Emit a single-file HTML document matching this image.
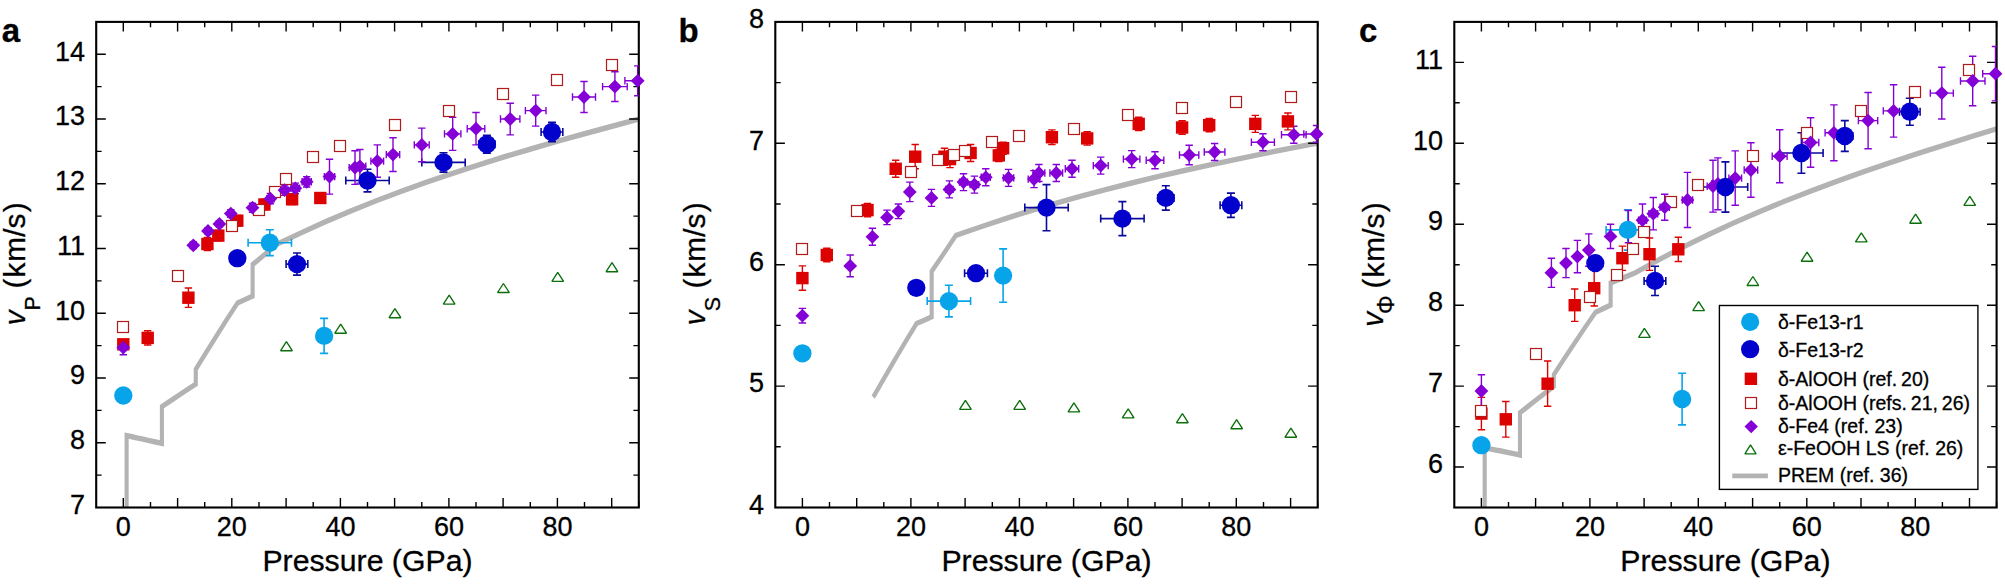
<!DOCTYPE html>
<html><head><meta charset="utf-8"><title>Figure</title>
<style>html,body{margin:0;padding:0;background:#fff}svg{display:block}text{fill:#000;stroke:#000;stroke-width:0.3px}</style></head>
<body><svg width="2005" height="584" viewBox="0 0 2005 584">
<rect width="2005" height="584" fill="#fff"/>
<g id="panel-a">
<clipPath id="clipa"><rect x="96.2" y="21.9" width="542.6" height="485.6"/></clipPath>
<g clip-path="url(#clipa)">
<polyline transform="scale(0.76,1)" points="166.59,572.2 166.59,435.6 170.27,436.2 175.06,437.0 179.77,437.8 188.12,439.2 196.40,440.6 204.68,442.0 213.04,443.4 213.04,406.6 224.03,401.0 235.10,395.4 246.38,389.7 257.59,384.1 257.59,369.3 271.01,352.8 284.58,336.2 298.43,319.6 312.49,303.0 322.56,299.5 332.41,296.0 332.41,264.6 348.62,254.3 364.25,244.3 396.45,232.7 428.51,221.6 461.13,211.1 494.19,201.0 527.82,191.4 561.37,182.2 595.64,173.3 629.91,164.8 664.90,156.5 700.59,148.5 736.29,140.7 772.70,133.0 809.11,125.5 846.24,118.0" fill="none" stroke="#b3b3b3" stroke-width="5.4" stroke-linejoin="miter"/>
</g>
<rect x="96.2" y="21.9" width="542.6" height="485.6" fill="none" stroke="#000" stroke-width="2.1"/>
<path d="M123.3,507.5v-9.6M123.3,21.9v9.6M150.5,507.5v-5.4M150.5,21.9v5.4M177.6,507.5v-9.6M177.6,21.9v9.6M204.7,507.5v-5.4M204.7,21.9v5.4M231.8,507.5v-9.6M231.8,21.9v9.6M259.0,507.5v-5.4M259.0,21.9v5.4M286.1,507.5v-9.6M286.1,21.9v9.6M313.2,507.5v-5.4M313.2,21.9v5.4M340.4,507.5v-9.6M340.4,21.9v9.6M367.5,507.5v-5.4M367.5,21.9v5.4M394.6,507.5v-9.6M394.6,21.9v9.6M421.8,507.5v-5.4M421.8,21.9v5.4M448.9,507.5v-9.6M448.9,21.9v9.6M476.0,507.5v-5.4M476.0,21.9v5.4M503.1,507.5v-9.6M503.1,21.9v9.6M530.3,507.5v-5.4M530.3,21.9v5.4M557.4,507.5v-9.6M557.4,21.9v9.6M584.5,507.5v-5.4M584.5,21.9v5.4M611.7,507.5v-9.6M611.7,21.9v9.6M638.8,507.5v-5.4M638.8,21.9v5.4M96.2,475.1h5.4M638.8,475.1h-5.4M96.2,442.8h9.6M638.8,442.8h-9.6M96.2,410.4h5.4M638.8,410.4h-5.4M96.2,378.0h9.6M638.8,378.0h-9.6M96.2,345.6h5.4M638.8,345.6h-5.4M96.2,313.3h9.6M638.8,313.3h-9.6M96.2,280.9h5.4M638.8,280.9h-5.4M96.2,248.5h9.6M638.8,248.5h-9.6M96.2,216.1h5.4M638.8,216.1h-5.4M96.2,183.8h9.6M638.8,183.8h-9.6M96.2,151.4h5.4M638.8,151.4h-5.4M96.2,119.0h9.6M638.8,119.0h-9.6M96.2,86.6h5.4M638.8,86.6h-5.4M96.2,54.3h9.6M638.8,54.3h-9.6" stroke="#000" stroke-width="1.4" fill="none"/>

<path d="M269.8,229.7V255.6M265.8,229.7h8M265.8,255.6h8M248.1,242.7H291.5M248.1,238.7v8M291.5,238.7v8" stroke="#08a4ea" stroke-width="1.6" fill="none" clip-path="url(#clipa)"/>
<path d="M324.1,318.4V353.4M320.1,318.4h8M320.1,353.4h8" stroke="#08a4ea" stroke-width="1.6" fill="none" clip-path="url(#clipa)"/>

<path d="M297.0,253.0V275.1M293.0,253.0h8M293.0,275.1h8M286.1,264.1H307.8M286.1,260.1v8M307.8,260.1v8" stroke="#0a0a9c" stroke-width="1.6" fill="none" clip-path="url(#clipa)"/>
<path d="M367.5,169.2V191.9M363.5,169.2h8M363.5,191.9h8M345.8,180.5H389.2M345.8,176.5v8M389.2,176.5v8" stroke="#0a0a9c" stroke-width="1.6" fill="none" clip-path="url(#clipa)"/>
<path d="M443.5,152.7V172.1M439.5,152.7h8M439.5,172.1h8M421.8,162.4H465.2M421.8,158.4v8M465.2,158.4v8" stroke="#0a0a9c" stroke-width="1.6" fill="none" clip-path="url(#clipa)"/>
<path d="M486.9,135.2V153.3M482.9,135.2h8M482.9,153.3h8M478.7,144.3H495.0M478.7,140.3v8M495.0,140.3v8" stroke="#0a0a9c" stroke-width="1.6" fill="none" clip-path="url(#clipa)"/>
<path d="M552.0,122.4V141.6M548.0,122.4h8M548.0,141.6h8M541.1,132.0H562.8M541.1,128.0v8M562.8,128.0v8" stroke="#0a0a9c" stroke-width="1.6" fill="none" clip-path="url(#clipa)"/>

<path d="M147.7,330.7V345.0M144.0,330.7h7.4M144.0,345.0h7.4" stroke="#dd0202" stroke-width="1.4" fill="none" clip-path="url(#clipa)"/>
<path d="M188.4,288.0V307.4M184.7,288.0h7.4M184.7,307.4h7.4" stroke="#dd0202" stroke-width="1.4" fill="none" clip-path="url(#clipa)"/>
<path d="M207.4,237.5V250.5M203.7,237.5h7.4M203.7,250.5h7.4" stroke="#dd0202" stroke-width="1.4" fill="none" clip-path="url(#clipa)"/>
<path d="M218.3,230.4V240.7M214.6,230.4h7.4M214.6,240.7h7.4" stroke="#dd0202" stroke-width="1.4" fill="none" clip-path="url(#clipa)"/>
<path d="M237.3,215.5V225.9M233.6,215.5h7.4M233.6,225.9h7.4" stroke="#dd0202" stroke-width="1.4" fill="none" clip-path="url(#clipa)"/>
<path d="M264.4,199.3V209.7M260.7,199.3h7.4M260.7,209.7h7.4" stroke="#dd0202" stroke-width="1.4" fill="none" clip-path="url(#clipa)"/>
<path d="M292.1,194.1V204.5M288.4,194.1h7.4M288.4,204.5h7.4" stroke="#dd0202" stroke-width="1.4" fill="none" clip-path="url(#clipa)"/>
<path d="M320.3,192.8V203.2M316.6,192.8h7.4M316.6,203.2h7.4" stroke="#dd0202" stroke-width="1.4" fill="none" clip-path="url(#clipa)"/>
<path d="M123.3,340.5V354.7M119.6,340.5h7.4M119.6,354.7h7.4" stroke="#8400d6" stroke-width="1.4" fill="none" clip-path="url(#clipa)"/>
<path d="M193.3,242.0V248.5M189.6,242.0h7.4M189.6,248.5h7.4" stroke="#8400d6" stroke-width="1.4" fill="none" clip-path="url(#clipa)"/>
<path d="M208.0,227.8V234.3M204.3,227.8h7.4M204.3,234.3h7.4" stroke="#8400d6" stroke-width="1.4" fill="none" clip-path="url(#clipa)"/>
<path d="M219.4,220.7V227.1M215.7,220.7h7.4M215.7,227.1h7.4" stroke="#8400d6" stroke-width="1.4" fill="none" clip-path="url(#clipa)"/>
<path d="M230.8,209.7V217.4M227.1,209.7h7.4M227.1,217.4h7.4" stroke="#8400d6" stroke-width="1.4" fill="none" clip-path="url(#clipa)"/>
<path d="M252.5,203.2V212.3M248.8,203.2h7.4M248.8,212.3h7.4" stroke="#8400d6" stroke-width="1.4" fill="none" clip-path="url(#clipa)"/>
<path d="M270.4,193.5V203.8M266.7,193.5h7.4M266.7,203.8h7.4M266.7,198.7H274.1M266.7,195.0v7.4M274.1,195.0v7.4" stroke="#8400d6" stroke-width="1.4" fill="none" clip-path="url(#clipa)"/>
<path d="M284.5,185.1V195.4M280.8,185.1h7.4M280.8,195.4h7.4M280.5,190.2H288.5M280.5,186.5v7.4M288.5,186.5v7.4" stroke="#8400d6" stroke-width="1.4" fill="none" clip-path="url(#clipa)"/>
<path d="M295.3,183.1V193.5M291.6,183.1h7.4M291.6,193.5h7.4M291.0,188.3H299.6M291.0,184.6v7.4M299.6,184.6v7.4" stroke="#8400d6" stroke-width="1.4" fill="none" clip-path="url(#clipa)"/>
<path d="M306.7,176.6V187.0M303.0,176.6h7.4M303.0,187.0h7.4M302.1,181.8H311.3M302.1,178.1v7.4M311.3,178.1v7.4" stroke="#8400d6" stroke-width="1.4" fill="none" clip-path="url(#clipa)"/>
<path d="M329.5,159.2V194.1M325.8,159.2h7.4M325.8,194.1h7.4M324.4,176.6H334.7M324.4,172.9v7.4M334.7,172.9v7.4" stroke="#8400d6" stroke-width="1.4" fill="none" clip-path="url(#clipa)"/>
<path d="M355.0,150.7V184.4M351.3,150.7h7.4M351.3,184.4h7.4M349.2,167.6H360.8M349.2,163.9v7.4M360.8,163.9v7.4" stroke="#8400d6" stroke-width="1.4" fill="none" clip-path="url(#clipa)"/>
<path d="M359.9,149.5V183.1M356.2,149.5h7.4M356.2,183.1h7.4M354.0,166.3H365.8M354.0,162.6v7.4M365.8,162.6v7.4" stroke="#8400d6" stroke-width="1.4" fill="none" clip-path="url(#clipa)"/>
<path d="M377.3,144.9V177.3M373.6,144.9h7.4M373.6,177.3h7.4M370.9,161.1H383.6M370.9,157.4v7.4M383.6,157.4v7.4" stroke="#8400d6" stroke-width="1.4" fill="none" clip-path="url(#clipa)"/>
<path d="M393.0,137.8V171.5M389.3,137.8h7.4M389.3,171.5h7.4M386.3,154.6H399.7M386.3,150.9v7.4M399.7,150.9v7.4" stroke="#8400d6" stroke-width="1.4" fill="none" clip-path="url(#clipa)"/>
<path d="M421.8,128.1V161.8M418.1,128.1h7.4M418.1,161.8h7.4M414.3,144.9H429.2M414.3,141.2v7.4M429.2,141.2v7.4" stroke="#8400d6" stroke-width="1.4" fill="none" clip-path="url(#clipa)"/>
<path d="M452.7,117.4V150.4M449.0,117.4h7.4M449.0,150.4h7.4M444.5,133.9H460.9M444.5,130.2v7.4M460.9,130.2v7.4" stroke="#8400d6" stroke-width="1.4" fill="none" clip-path="url(#clipa)"/>
<path d="M476.0,112.5V144.9M472.3,112.5h7.4M472.3,144.9h7.4M467.2,128.7H484.8M467.2,125.0v7.4M484.8,125.0v7.4" stroke="#8400d6" stroke-width="1.4" fill="none" clip-path="url(#clipa)"/>
<path d="M510.2,103.2V134.9M506.5,103.2h7.4M506.5,134.9h7.4M500.5,119.0H519.9M500.5,115.3v7.4M519.9,115.3v7.4" stroke="#8400d6" stroke-width="1.4" fill="none" clip-path="url(#clipa)"/>
<path d="M535.7,95.1V126.1M532.0,95.1h7.4M532.0,126.1h7.4M525.4,110.6H546.0M525.4,106.9v7.4M546.0,106.9v7.4" stroke="#8400d6" stroke-width="1.4" fill="none" clip-path="url(#clipa)"/>
<path d="M584.0,81.5V112.5M580.3,81.5h7.4M580.3,112.5h7.4M572.5,97.0H595.5M572.5,93.3v7.4M595.5,93.3v7.4" stroke="#8400d6" stroke-width="1.4" fill="none" clip-path="url(#clipa)"/>
<path d="M614.9,71.8V101.5M611.2,71.8h7.4M611.2,101.5h7.4M602.6,86.6H627.2M602.6,82.9v7.4M627.2,82.9v7.4" stroke="#8400d6" stroke-width="1.4" fill="none" clip-path="url(#clipa)"/>
<path d="M637.7,65.9V95.7M634.0,65.9h7.4M634.0,95.7h7.4M624.9,80.8H650.6M624.9,77.1v7.4M650.6,77.1v7.4" stroke="#8400d6" stroke-width="1.4" fill="none" clip-path="url(#clipa)"/>
<rect x="117.1" y="338.1" width="12.4" height="12.4" fill="#dd0202"/>
<rect x="141.5" y="331.7" width="12.4" height="12.4" fill="#dd0202"/>
<rect x="182.2" y="291.5" width="12.4" height="12.4" fill="#dd0202"/>
<rect x="201.2" y="237.8" width="12.4" height="12.4" fill="#dd0202"/>
<rect x="212.1" y="229.4" width="12.4" height="12.4" fill="#dd0202"/>
<rect x="231.1" y="214.5" width="12.4" height="12.4" fill="#dd0202"/>
<rect x="258.2" y="198.3" width="12.4" height="12.4" fill="#dd0202"/>
<rect x="285.9" y="193.1" width="12.4" height="12.4" fill="#dd0202"/>
<rect x="314.1" y="191.8" width="12.4" height="12.4" fill="#dd0202"/>
<rect x="117.5" y="321.5" width="11" height="11" fill="#fff" stroke="#b01c1c" stroke-width="1.2"/>
<rect x="172.5" y="270.5" width="11" height="11" fill="#fff" stroke="#b01c1c" stroke-width="1.2"/>
<rect x="226.5" y="220.5" width="11" height="11" fill="#fff" stroke="#b01c1c" stroke-width="1.2"/>
<rect x="253.5" y="204.5" width="11" height="11" fill="#fff" stroke="#b01c1c" stroke-width="1.2"/>
<rect x="269.5" y="186.5" width="11" height="11" fill="#fff" stroke="#b01c1c" stroke-width="1.2"/>
<rect x="280.5" y="173.5" width="11" height="11" fill="#fff" stroke="#b01c1c" stroke-width="1.2"/>
<rect x="307.5" y="151.5" width="11" height="11" fill="#fff" stroke="#b01c1c" stroke-width="1.2"/>
<rect x="334.5" y="140.5" width="11" height="11" fill="#fff" stroke="#b01c1c" stroke-width="1.2"/>
<rect x="389.5" y="119.5" width="11" height="11" fill="#fff" stroke="#b01c1c" stroke-width="1.2"/>
<rect x="443.5" y="105.5" width="11" height="11" fill="#fff" stroke="#b01c1c" stroke-width="1.2"/>
<rect x="497.5" y="88.5" width="11" height="11" fill="#fff" stroke="#b01c1c" stroke-width="1.2"/>
<rect x="551.5" y="74.5" width="11" height="11" fill="#fff" stroke="#b01c1c" stroke-width="1.2"/>
<rect x="606.5" y="59.5" width="11" height="11" fill="#fff" stroke="#b01c1c" stroke-width="1.2"/>
<path d="M123.3,340.7L130.2,347.6L123.3,354.5L116.4,347.6Z" fill="#8400d6"/>
<path d="M193.3,238.4L200.2,245.3L193.3,252.2L186.4,245.3Z" fill="#8400d6"/>
<path d="M208.0,224.1L214.9,231.0L208.0,237.9L201.1,231.0Z" fill="#8400d6"/>
<path d="M219.4,217.0L226.3,223.9L219.4,230.8L212.5,223.9Z" fill="#8400d6"/>
<path d="M230.8,206.7L237.7,213.6L230.8,220.5L223.9,213.6Z" fill="#8400d6"/>
<path d="M252.5,200.8L259.4,207.7L252.5,214.6L245.6,207.7Z" fill="#8400d6"/>
<path d="M270.4,191.8L277.3,198.7L270.4,205.6L263.5,198.7Z" fill="#8400d6"/>
<path d="M284.5,183.3L291.4,190.2L284.5,197.1L277.6,190.2Z" fill="#8400d6"/>
<path d="M295.3,181.4L302.2,188.3L295.3,195.2L288.4,188.3Z" fill="#8400d6"/>
<path d="M306.7,174.9L313.6,181.8L306.7,188.7L299.8,181.8Z" fill="#8400d6"/>
<path d="M329.5,169.7L336.4,176.6L329.5,183.5L322.6,176.6Z" fill="#8400d6"/>
<path d="M355.0,160.7L361.9,167.6L355.0,174.5L348.1,167.6Z" fill="#8400d6"/>
<path d="M359.9,159.4L366.8,166.3L359.9,173.2L353.0,166.3Z" fill="#8400d6"/>
<path d="M377.3,154.2L384.2,161.1L377.3,168.0L370.4,161.1Z" fill="#8400d6"/>
<path d="M393.0,147.7L399.9,154.6L393.0,161.5L386.1,154.6Z" fill="#8400d6"/>
<path d="M421.8,138.0L428.7,144.9L421.8,151.8L414.9,144.9Z" fill="#8400d6"/>
<path d="M452.7,127.0L459.6,133.9L452.7,140.8L445.8,133.9Z" fill="#8400d6"/>
<path d="M476.0,121.8L482.9,128.7L476.0,135.6L469.1,128.7Z" fill="#8400d6"/>
<path d="M510.2,112.1L517.1,119.0L510.2,125.9L503.3,119.0Z" fill="#8400d6"/>
<path d="M535.7,103.7L542.6,110.6L535.7,117.5L528.8,110.6Z" fill="#8400d6"/>
<path d="M584.0,90.1L590.9,97.0L584.0,103.9L577.1,97.0Z" fill="#8400d6"/>
<path d="M614.9,79.7L621.8,86.6L614.9,93.5L608.0,86.6Z" fill="#8400d6"/>
<path d="M637.7,73.9L644.6,80.8L637.7,87.7L630.8,80.8Z" fill="#8400d6"/>
<path d="M286.4,341.7L292.3,350.7H280.6Z" fill="#fff" stroke="#0a6e0a" stroke-width="1.35" stroke-linejoin="bevel"/>
<path d="M340.7,324.2L346.5,333.2H334.8Z" fill="#fff" stroke="#0a6e0a" stroke-width="1.35" stroke-linejoin="bevel"/>
<path d="M394.9,308.7L400.8,317.7H389.1Z" fill="#fff" stroke="#0a6e0a" stroke-width="1.35" stroke-linejoin="bevel"/>
<path d="M449.2,295.1L455.0,304.1H443.3Z" fill="#fff" stroke="#0a6e0a" stroke-width="1.35" stroke-linejoin="bevel"/>
<path d="M503.4,283.5L509.3,292.5H497.6Z" fill="#fff" stroke="#0a6e0a" stroke-width="1.35" stroke-linejoin="bevel"/>
<path d="M557.7,272.4L563.6,281.4H551.9Z" fill="#fff" stroke="#0a6e0a" stroke-width="1.35" stroke-linejoin="bevel"/>
<path d="M612.0,262.7L617.8,271.7H606.1Z" fill="#fff" stroke="#0a6e0a" stroke-width="1.35" stroke-linejoin="bevel"/>
<circle cx="123.3" cy="395.5" r="9.15" fill="#08a4ea"/>
<circle cx="269.8" cy="242.7" r="9.15" fill="#08a4ea"/>
<circle cx="324.1" cy="335.9" r="9.15" fill="#08a4ea"/>
<circle cx="237.3" cy="258.2" r="9.15" fill="#0202cc"/>
<circle cx="297.0" cy="264.1" r="9.15" fill="#0202cc"/>
<circle cx="367.5" cy="180.5" r="9.15" fill="#0202cc"/>
<circle cx="443.5" cy="162.4" r="9.15" fill="#0202cc"/>
<circle cx="486.9" cy="144.3" r="9.15" fill="#0202cc"/>
<circle cx="552.0" cy="132.0" r="9.15" fill="#0202cc"/>
<text x="123.3" y="535.7" font-size="27" text-anchor="middle" font-family="Liberation Sans, Arial, sans-serif">0</text>
<text x="231.8" y="535.7" font-size="27" text-anchor="middle" font-family="Liberation Sans, Arial, sans-serif">20</text>
<text x="340.4" y="535.7" font-size="27" text-anchor="middle" font-family="Liberation Sans, Arial, sans-serif">40</text>
<text x="448.9" y="535.7" font-size="27" text-anchor="middle" font-family="Liberation Sans, Arial, sans-serif">60</text>
<text x="557.4" y="535.7" font-size="27" text-anchor="middle" font-family="Liberation Sans, Arial, sans-serif">80</text>
<text x="85.0" y="513.7" font-size="27" text-anchor="end" font-family="Liberation Sans, Arial, sans-serif">7</text>
<text x="85.0" y="449.0" font-size="27" text-anchor="end" font-family="Liberation Sans, Arial, sans-serif">8</text>
<text x="85.0" y="384.2" font-size="27" text-anchor="end" font-family="Liberation Sans, Arial, sans-serif">9</text>
<text x="85.0" y="319.5" font-size="27" text-anchor="end" font-family="Liberation Sans, Arial, sans-serif">10</text>
<text x="85.0" y="254.7" font-size="27" text-anchor="end" font-family="Liberation Sans, Arial, sans-serif">11</text>
<text x="85.0" y="190.0" font-size="27" text-anchor="end" font-family="Liberation Sans, Arial, sans-serif">12</text>
<text x="85.0" y="125.2" font-size="27" text-anchor="end" font-family="Liberation Sans, Arial, sans-serif">13</text>
<text x="85.0" y="60.5" font-size="27" text-anchor="end" font-family="Liberation Sans, Arial, sans-serif">14</text>
<text x="367.5" y="570.6" font-size="30.25" text-anchor="middle" font-family="Liberation Sans, Arial, sans-serif">Pressure (GPa)</text>
<g transform="translate(25.2,0) rotate(-90)" font-size="29.8" font-family="Liberation Sans, Arial, sans-serif"><text x="-325.2" y="-0.4" font-style="italic">v</text><text x="-310.5" y="14.6" font-size="21.3">P</text><text x="-288.49" y="0" dx="0 1 1 0 0 1.3">(km/s)</text></g>
<text x="1.8" y="42.1" font-size="33" font-weight="bold" font-family="Liberation Sans, Arial, sans-serif">a</text>
</g>
<g id="panel-b">
<clipPath id="clipb"><rect x="775.3" y="21.9" width="542.4" height="485.6"/></clipPath>
<g clip-path="url(#clipb)">
<polyline transform="scale(0.76,1)" points="1148.95,397.1 1151.09,394.3 1164.51,376.6 1178.07,358.9 1191.92,341.2 1205.97,323.5 1216.04,320.2 1225.89,316.9 1225.89,271.4 1242.09,253.3 1257.72,235.5 1289.90,227.0 1321.95,218.8 1354.56,211.0 1387.61,203.6 1421.22,196.4 1454.77,189.6 1489.02,183.0 1523.28,176.6 1558.25,170.5 1593.93,164.6 1629.62,158.8 1666.02,153.1 1702.41,147.6 1739.53,142.2" fill="none" stroke="#b3b3b3" stroke-width="5.4" stroke-linejoin="miter"/>
</g>
<rect x="775.3" y="21.9" width="542.4" height="485.6" fill="none" stroke="#000" stroke-width="2.1"/>
<path d="M802.4,507.5v-9.6M802.4,21.9v9.6M829.5,507.5v-5.4M829.5,21.9v5.4M856.7,507.5v-9.6M856.7,21.9v9.6M883.8,507.5v-5.4M883.8,21.9v5.4M910.9,507.5v-9.6M910.9,21.9v9.6M938.0,507.5v-5.4M938.0,21.9v5.4M965.1,507.5v-9.6M965.1,21.9v9.6M992.3,507.5v-5.4M992.3,21.9v5.4M1019.4,507.5v-9.6M1019.4,21.9v9.6M1046.5,507.5v-5.4M1046.5,21.9v5.4M1073.6,507.5v-9.6M1073.6,21.9v9.6M1100.7,507.5v-5.4M1100.7,21.9v5.4M1127.9,507.5v-9.6M1127.9,21.9v9.6M1155.0,507.5v-5.4M1155.0,21.9v5.4M1182.1,507.5v-9.6M1182.1,21.9v9.6M1209.2,507.5v-5.4M1209.2,21.9v5.4M1236.3,507.5v-9.6M1236.3,21.9v9.6M1263.5,507.5v-5.4M1263.5,21.9v5.4M1290.6,507.5v-9.6M1290.6,21.9v9.6M1317.7,507.5v-5.4M1317.7,21.9v5.4M775.3,446.8h5.4M1317.7,446.8h-5.4M775.3,386.1h9.6M1317.7,386.1h-9.6M775.3,325.4h5.4M1317.7,325.4h-5.4M775.3,264.7h9.6M1317.7,264.7h-9.6M775.3,204.0h5.4M1317.7,204.0h-5.4M775.3,143.3h9.6M1317.7,143.3h-9.6M775.3,82.6h5.4M1317.7,82.6h-5.4" stroke="#000" stroke-width="1.4" fill="none"/>

<path d="M948.9,285.3V316.9M944.9,285.3h8M944.9,316.9h8M927.2,301.1H970.6M927.2,297.1v8M970.6,297.1v8" stroke="#08a4ea" stroke-width="1.6" fill="none" clip-path="url(#clipb)"/>
<path d="M1003.1,248.9V302.3M999.1,248.9h8M999.1,302.3h8" stroke="#08a4ea" stroke-width="1.6" fill="none" clip-path="url(#clipb)"/>

<path d="M976.0,267.1V279.3M972.0,267.1h8M972.0,279.3h8M964.6,273.2H987.4M964.6,269.2v8M987.4,269.2v8" stroke="#0a0a9c" stroke-width="1.6" fill="none" clip-path="url(#clipb)"/>
<path d="M1046.5,184.6V230.7M1042.5,184.6h8M1042.5,230.7h8M1024.8,207.6H1068.2M1024.8,203.6v8M1068.2,203.6v8" stroke="#0a0a9c" stroke-width="1.6" fill="none" clip-path="url(#clipb)"/>
<path d="M1122.4,201.6V235.6M1118.4,201.6h8M1118.4,235.6h8M1100.7,218.6H1144.1M1100.7,214.6v8M1144.1,214.6v8" stroke="#0a0a9c" stroke-width="1.6" fill="none" clip-path="url(#clipb)"/>
<path d="M1165.8,185.8V210.1M1161.8,185.8h8M1161.8,210.1h8M1157.7,197.9H1174.0M1157.7,193.9v8M1174.0,193.9v8" stroke="#0a0a9c" stroke-width="1.6" fill="none" clip-path="url(#clipb)"/>
<path d="M1230.9,193.1V217.4M1226.9,193.1h8M1226.9,217.4h8M1220.1,205.2H1241.8M1220.1,201.2v8M1241.8,201.2v8" stroke="#0a0a9c" stroke-width="1.6" fill="none" clip-path="url(#clipb)"/>
<path d="M802.4,265.9V290.2M798.7,265.9h7.4M798.7,290.2h7.4" stroke="#dd0202" stroke-width="1.4" fill="none" clip-path="url(#clipb)"/>
<path d="M826.8,248.3V261.7M823.1,248.3h7.4M823.1,261.7h7.4" stroke="#dd0202" stroke-width="1.4" fill="none" clip-path="url(#clipb)"/>
<path d="M867.5,203.4V216.7M863.8,203.4h7.4M863.8,216.7h7.4" stroke="#dd0202" stroke-width="1.4" fill="none" clip-path="url(#clipb)"/>
<path d="M895.7,160.3V177.3M892.0,160.3h7.4M892.0,177.3h7.4" stroke="#dd0202" stroke-width="1.4" fill="none" clip-path="url(#clipb)"/>
<path d="M915.2,144.5V168.8M911.5,144.5h7.4M911.5,168.8h7.4" stroke="#dd0202" stroke-width="1.4" fill="none" clip-path="url(#clipb)"/>
<path d="M944.5,148.2V165.2M940.8,148.2h7.4M940.8,165.2h7.4" stroke="#dd0202" stroke-width="1.4" fill="none" clip-path="url(#clipb)"/>
<path d="M950.0,150.6V167.6M946.3,150.6h7.4M946.3,167.6h7.4" stroke="#dd0202" stroke-width="1.4" fill="none" clip-path="url(#clipb)"/>
<path d="M970.6,144.5V161.5M966.9,144.5h7.4M966.9,161.5h7.4" stroke="#dd0202" stroke-width="1.4" fill="none" clip-path="url(#clipb)"/>
<path d="M998.8,149.4V161.5M995.1,149.4h7.4M995.1,161.5h7.4" stroke="#dd0202" stroke-width="1.4" fill="none" clip-path="url(#clipb)"/>
<path d="M1003.1,142.1V154.2M999.4,142.1h7.4M999.4,154.2h7.4" stroke="#dd0202" stroke-width="1.4" fill="none" clip-path="url(#clipb)"/>
<path d="M1051.9,129.9V144.5M1048.2,129.9h7.4M1048.2,144.5h7.4" stroke="#dd0202" stroke-width="1.4" fill="none" clip-path="url(#clipb)"/>
<path d="M1087.2,131.8V145.1M1083.5,131.8h7.4M1083.5,145.1h7.4" stroke="#dd0202" stroke-width="1.4" fill="none" clip-path="url(#clipb)"/>
<path d="M1138.7,117.2V130.6M1135.0,117.2h7.4M1135.0,130.6h7.4" stroke="#dd0202" stroke-width="1.4" fill="none" clip-path="url(#clipb)"/>
<path d="M1182.1,120.8V134.2M1178.4,120.8h7.4M1178.4,134.2h7.4" stroke="#dd0202" stroke-width="1.4" fill="none" clip-path="url(#clipb)"/>
<path d="M1209.2,118.4V131.8M1205.5,118.4h7.4M1205.5,131.8h7.4" stroke="#dd0202" stroke-width="1.4" fill="none" clip-path="url(#clipb)"/>
<path d="M1255.3,115.4V132.4M1251.6,115.4h7.4M1251.6,132.4h7.4" stroke="#dd0202" stroke-width="1.4" fill="none" clip-path="url(#clipb)"/>
<path d="M1287.9,113.0V129.9M1284.2,113.0h7.4M1284.2,129.9h7.4" stroke="#dd0202" stroke-width="1.4" fill="none" clip-path="url(#clipb)"/>
<path d="M802.4,308.4V323.0M798.7,308.4h7.4M798.7,323.0h7.4" stroke="#8400d6" stroke-width="1.4" fill="none" clip-path="url(#clipb)"/>
<path d="M850.2,255.0V276.8M846.5,255.0h7.4M846.5,276.8h7.4" stroke="#8400d6" stroke-width="1.4" fill="none" clip-path="url(#clipb)"/>
<path d="M872.4,228.3V245.3M868.7,228.3h7.4M868.7,245.3h7.4" stroke="#8400d6" stroke-width="1.4" fill="none" clip-path="url(#clipb)"/>
<path d="M887.0,210.1V224.6M883.3,210.1h7.4M883.3,224.6h7.4" stroke="#8400d6" stroke-width="1.4" fill="none" clip-path="url(#clipb)"/>
<path d="M898.4,204.0V218.6M894.7,204.0h7.4M894.7,218.6h7.4" stroke="#8400d6" stroke-width="1.4" fill="none" clip-path="url(#clipb)"/>
<path d="M909.8,182.1V201.6M906.1,182.1h7.4M906.1,201.6h7.4" stroke="#8400d6" stroke-width="1.4" fill="none" clip-path="url(#clipb)"/>
<path d="M931.5,189.4V206.4M927.8,189.4h7.4M927.8,206.4h7.4" stroke="#8400d6" stroke-width="1.4" fill="none" clip-path="url(#clipb)"/>
<path d="M949.4,180.9V197.9M945.7,180.9h7.4M945.7,197.9h7.4M945.7,189.4H953.1M945.7,185.7v7.4M953.1,185.7v7.4" stroke="#8400d6" stroke-width="1.4" fill="none" clip-path="url(#clipb)"/>
<path d="M963.5,173.7V190.6M959.8,173.7h7.4M959.8,190.6h7.4M959.5,182.1H967.5M959.5,178.4v7.4M967.5,178.4v7.4" stroke="#8400d6" stroke-width="1.4" fill="none" clip-path="url(#clipb)"/>
<path d="M974.4,176.1V193.1M970.7,176.1h7.4M970.7,193.1h7.4M970.1,184.6H978.7M970.1,180.9v7.4M978.7,180.9v7.4" stroke="#8400d6" stroke-width="1.4" fill="none" clip-path="url(#clipb)"/>
<path d="M985.8,168.8V185.8M982.1,168.8h7.4M982.1,185.8h7.4M981.2,177.3H990.3M981.2,173.6v7.4M990.3,173.6v7.4" stroke="#8400d6" stroke-width="1.4" fill="none" clip-path="url(#clipb)"/>
<path d="M1008.5,169.4V186.4M1004.8,169.4h7.4M1004.8,186.4h7.4M1003.4,177.9H1013.7M1003.4,174.2v7.4M1013.7,174.2v7.4" stroke="#8400d6" stroke-width="1.4" fill="none" clip-path="url(#clipb)"/>
<path d="M1034.0,170.6V187.6M1030.3,170.6h7.4M1030.3,187.6h7.4M1028.2,179.1H1039.8M1028.2,175.4v7.4M1039.8,175.4v7.4" stroke="#8400d6" stroke-width="1.4" fill="none" clip-path="url(#clipb)"/>
<path d="M1038.9,164.5V181.5M1035.2,164.5h7.4M1035.2,181.5h7.4M1033.0,173.0H1044.8M1033.0,169.3v7.4M1044.8,169.3v7.4" stroke="#8400d6" stroke-width="1.4" fill="none" clip-path="url(#clipb)"/>
<path d="M1056.3,164.5V181.5M1052.6,164.5h7.4M1052.6,181.5h7.4M1049.9,173.0H1062.6M1049.9,169.3v7.4M1062.6,169.3v7.4" stroke="#8400d6" stroke-width="1.4" fill="none" clip-path="url(#clipb)"/>
<path d="M1072.0,160.3V177.3M1068.3,160.3h7.4M1068.3,177.3h7.4M1065.3,168.8H1078.7M1065.3,165.1v7.4M1078.7,165.1v7.4" stroke="#8400d6" stroke-width="1.4" fill="none" clip-path="url(#clipb)"/>
<path d="M1100.7,157.1V174.1M1097.0,157.1h7.4M1097.0,174.1h7.4M1093.3,165.6H1108.2M1093.3,161.9v7.4M1108.2,161.9v7.4" stroke="#8400d6" stroke-width="1.4" fill="none" clip-path="url(#clipb)"/>
<path d="M1131.7,150.6V167.6M1128.0,150.6h7.4M1128.0,167.6h7.4M1123.4,159.1H1139.9M1123.4,155.4v7.4M1139.9,155.4v7.4" stroke="#8400d6" stroke-width="1.4" fill="none" clip-path="url(#clipb)"/>
<path d="M1155.0,151.8V168.8M1151.3,151.8h7.4M1151.3,168.8h7.4M1146.2,160.3H1163.8M1146.2,156.6v7.4M1163.8,156.6v7.4" stroke="#8400d6" stroke-width="1.4" fill="none" clip-path="url(#clipb)"/>
<path d="M1189.2,145.2V164.7M1185.5,145.2h7.4M1185.5,164.7h7.4M1179.5,155.0H1198.8M1179.5,151.3v7.4M1198.8,151.3v7.4" stroke="#8400d6" stroke-width="1.4" fill="none" clip-path="url(#clipb)"/>
<path d="M1214.6,143.5V160.5M1210.9,143.5h7.4M1210.9,160.5h7.4M1204.3,152.0H1224.9M1204.3,148.3v7.4M1224.9,148.3v7.4" stroke="#8400d6" stroke-width="1.4" fill="none" clip-path="url(#clipb)"/>
<path d="M1262.9,133.7V150.7M1259.2,133.7h7.4M1259.2,150.7h7.4M1251.4,142.2H1274.4M1251.4,138.5v7.4M1274.4,138.5v7.4" stroke="#8400d6" stroke-width="1.4" fill="none" clip-path="url(#clipb)"/>
<path d="M1293.8,126.3V143.3M1290.1,126.3h7.4M1290.1,143.3h7.4M1281.5,134.8H1306.1M1281.5,131.1v7.4M1306.1,131.1v7.4" stroke="#8400d6" stroke-width="1.4" fill="none" clip-path="url(#clipb)"/>
<path d="M1316.6,125.5V142.5M1312.9,125.5h7.4M1312.9,142.5h7.4M1303.8,134.0H1329.5M1303.8,130.3v7.4M1329.5,130.3v7.4" stroke="#8400d6" stroke-width="1.4" fill="none" clip-path="url(#clipb)"/>
<rect x="796.2" y="271.9" width="12.4" height="12.4" fill="#dd0202"/>
<rect x="820.6" y="248.8" width="12.4" height="12.4" fill="#dd0202"/>
<rect x="861.3" y="203.9" width="12.4" height="12.4" fill="#dd0202"/>
<rect x="889.5" y="162.6" width="12.4" height="12.4" fill="#dd0202"/>
<rect x="909.0" y="150.5" width="12.4" height="12.4" fill="#dd0202"/>
<rect x="938.3" y="150.5" width="12.4" height="12.4" fill="#dd0202"/>
<rect x="943.8" y="152.9" width="12.4" height="12.4" fill="#dd0202"/>
<rect x="964.4" y="146.8" width="12.4" height="12.4" fill="#dd0202"/>
<rect x="992.6" y="149.2" width="12.4" height="12.4" fill="#dd0202"/>
<rect x="996.9" y="142.0" width="12.4" height="12.4" fill="#dd0202"/>
<rect x="1045.7" y="131.0" width="12.4" height="12.4" fill="#dd0202"/>
<rect x="1081.0" y="132.2" width="12.4" height="12.4" fill="#dd0202"/>
<rect x="1132.5" y="117.7" width="12.4" height="12.4" fill="#dd0202"/>
<rect x="1175.9" y="121.3" width="12.4" height="12.4" fill="#dd0202"/>
<rect x="1203.0" y="118.9" width="12.4" height="12.4" fill="#dd0202"/>
<rect x="1249.1" y="117.7" width="12.4" height="12.4" fill="#dd0202"/>
<rect x="1281.7" y="115.2" width="12.4" height="12.4" fill="#dd0202"/>
<rect x="796.5" y="243.5" width="11" height="11" fill="#fff" stroke="#b01c1c" stroke-width="1.2"/>
<rect x="851.5" y="205.5" width="11" height="11" fill="#fff" stroke="#b01c1c" stroke-width="1.2"/>
<rect x="905.5" y="166.5" width="11" height="11" fill="#fff" stroke="#b01c1c" stroke-width="1.2"/>
<rect x="932.5" y="154.5" width="11" height="11" fill="#fff" stroke="#b01c1c" stroke-width="1.2"/>
<rect x="948.5" y="149.5" width="11" height="11" fill="#fff" stroke="#b01c1c" stroke-width="1.2"/>
<rect x="959.5" y="145.5" width="11" height="11" fill="#fff" stroke="#b01c1c" stroke-width="1.2"/>
<rect x="986.5" y="136.5" width="11" height="11" fill="#fff" stroke="#b01c1c" stroke-width="1.2"/>
<rect x="1013.5" y="130.5" width="11" height="11" fill="#fff" stroke="#b01c1c" stroke-width="1.2"/>
<rect x="1068.5" y="123.5" width="11" height="11" fill="#fff" stroke="#b01c1c" stroke-width="1.2"/>
<rect x="1122.5" y="109.5" width="11" height="11" fill="#fff" stroke="#b01c1c" stroke-width="1.2"/>
<rect x="1176.5" y="102.5" width="11" height="11" fill="#fff" stroke="#b01c1c" stroke-width="1.2"/>
<rect x="1230.5" y="96.5" width="11" height="11" fill="#fff" stroke="#b01c1c" stroke-width="1.2"/>
<rect x="1285.5" y="91.5" width="11" height="11" fill="#fff" stroke="#b01c1c" stroke-width="1.2"/>
<path d="M802.4,308.8L809.3,315.7L802.4,322.6L795.5,315.7Z" fill="#8400d6"/>
<path d="M850.2,259.0L857.1,265.9L850.2,272.8L843.3,265.9Z" fill="#8400d6"/>
<path d="M872.4,229.9L879.3,236.8L872.4,243.7L865.5,236.8Z" fill="#8400d6"/>
<path d="M887.0,210.5L893.9,217.4L887.0,224.3L880.1,217.4Z" fill="#8400d6"/>
<path d="M898.4,204.4L905.3,211.3L898.4,218.2L891.5,211.3Z" fill="#8400d6"/>
<path d="M909.8,185.0L916.7,191.9L909.8,198.8L902.9,191.9Z" fill="#8400d6"/>
<path d="M931.5,191.0L938.4,197.9L931.5,204.8L924.6,197.9Z" fill="#8400d6"/>
<path d="M949.4,182.5L956.3,189.4L949.4,196.3L942.5,189.4Z" fill="#8400d6"/>
<path d="M963.5,175.2L970.4,182.1L963.5,189.0L956.6,182.1Z" fill="#8400d6"/>
<path d="M974.4,177.7L981.3,184.6L974.4,191.5L967.5,184.6Z" fill="#8400d6"/>
<path d="M985.8,170.4L992.7,177.3L985.8,184.2L978.9,177.3Z" fill="#8400d6"/>
<path d="M1008.5,171.0L1015.4,177.9L1008.5,184.8L1001.6,177.9Z" fill="#8400d6"/>
<path d="M1034.0,172.2L1040.9,179.1L1034.0,186.0L1027.1,179.1Z" fill="#8400d6"/>
<path d="M1038.9,166.1L1045.8,173.0L1038.9,179.9L1032.0,173.0Z" fill="#8400d6"/>
<path d="M1056.3,166.1L1063.2,173.0L1056.3,179.9L1049.4,173.0Z" fill="#8400d6"/>
<path d="M1072.0,161.9L1078.9,168.8L1072.0,175.7L1065.1,168.8Z" fill="#8400d6"/>
<path d="M1100.7,158.7L1107.6,165.6L1100.7,172.5L1093.8,165.6Z" fill="#8400d6"/>
<path d="M1131.7,152.2L1138.6,159.1L1131.7,166.0L1124.8,159.1Z" fill="#8400d6"/>
<path d="M1155.0,153.4L1161.9,160.3L1155.0,167.2L1148.1,160.3Z" fill="#8400d6"/>
<path d="M1189.2,148.1L1196.1,155.0L1189.2,161.9L1182.3,155.0Z" fill="#8400d6"/>
<path d="M1214.6,145.1L1221.5,152.0L1214.6,158.9L1207.7,152.0Z" fill="#8400d6"/>
<path d="M1262.9,135.3L1269.8,142.2L1262.9,149.1L1256.0,142.2Z" fill="#8400d6"/>
<path d="M1293.8,127.9L1300.7,134.8L1293.8,141.7L1286.9,134.8Z" fill="#8400d6"/>
<path d="M1316.6,127.1L1323.5,134.0L1316.6,140.9L1309.7,134.0Z" fill="#8400d6"/>
<path d="M965.4,400.3L971.3,409.3H959.6Z" fill="#fff" stroke="#0a6e0a" stroke-width="1.35" stroke-linejoin="bevel"/>
<path d="M1019.7,400.3L1025.5,409.3H1013.8Z" fill="#fff" stroke="#0a6e0a" stroke-width="1.35" stroke-linejoin="bevel"/>
<path d="M1073.9,402.8L1079.8,411.8H1068.1Z" fill="#fff" stroke="#0a6e0a" stroke-width="1.35" stroke-linejoin="bevel"/>
<path d="M1128.2,408.8L1134.0,417.8H1122.3Z" fill="#fff" stroke="#0a6e0a" stroke-width="1.35" stroke-linejoin="bevel"/>
<path d="M1182.4,413.7L1188.2,422.7H1176.5Z" fill="#fff" stroke="#0a6e0a" stroke-width="1.35" stroke-linejoin="bevel"/>
<path d="M1236.6,419.7L1242.5,428.7H1230.8Z" fill="#fff" stroke="#0a6e0a" stroke-width="1.35" stroke-linejoin="bevel"/>
<path d="M1290.9,428.2L1296.7,437.2H1285.0Z" fill="#fff" stroke="#0a6e0a" stroke-width="1.35" stroke-linejoin="bevel"/>
<circle cx="802.4" cy="353.3" r="9.15" fill="#08a4ea"/>
<circle cx="948.9" cy="301.1" r="9.15" fill="#08a4ea"/>
<circle cx="1003.1" cy="275.6" r="9.15" fill="#08a4ea"/>
<circle cx="916.3" cy="287.8" r="9.15" fill="#0202cc"/>
<circle cx="976.0" cy="273.2" r="9.15" fill="#0202cc"/>
<circle cx="1046.5" cy="207.6" r="9.15" fill="#0202cc"/>
<circle cx="1122.4" cy="218.6" r="9.15" fill="#0202cc"/>
<circle cx="1165.8" cy="197.9" r="9.15" fill="#0202cc"/>
<circle cx="1230.9" cy="205.2" r="9.15" fill="#0202cc"/>
<text x="802.4" y="535.7" font-size="27" text-anchor="middle" font-family="Liberation Sans, Arial, sans-serif">0</text>
<text x="910.9" y="535.7" font-size="27" text-anchor="middle" font-family="Liberation Sans, Arial, sans-serif">20</text>
<text x="1019.4" y="535.7" font-size="27" text-anchor="middle" font-family="Liberation Sans, Arial, sans-serif">40</text>
<text x="1127.9" y="535.7" font-size="27" text-anchor="middle" font-family="Liberation Sans, Arial, sans-serif">60</text>
<text x="1236.3" y="535.7" font-size="27" text-anchor="middle" font-family="Liberation Sans, Arial, sans-serif">80</text>
<text x="764.1" y="513.7" font-size="27" text-anchor="end" font-family="Liberation Sans, Arial, sans-serif">4</text>
<text x="764.1" y="392.3" font-size="27" text-anchor="end" font-family="Liberation Sans, Arial, sans-serif">5</text>
<text x="764.1" y="270.9" font-size="27" text-anchor="end" font-family="Liberation Sans, Arial, sans-serif">6</text>
<text x="764.1" y="149.5" font-size="27" text-anchor="end" font-family="Liberation Sans, Arial, sans-serif">7</text>
<text x="764.1" y="28.1" font-size="27" text-anchor="end" font-family="Liberation Sans, Arial, sans-serif">8</text>
<text x="1046.5" y="570.6" font-size="30.25" text-anchor="middle" font-family="Liberation Sans, Arial, sans-serif">Pressure (GPa)</text>
<g transform="translate(705.0,0) rotate(-90)" font-size="29.8" font-family="Liberation Sans, Arial, sans-serif"><text x="-325.2" y="-0.4" font-style="italic">v</text><text x="-311.3" y="14.6" font-size="21.3">S</text><text x="-288.49" y="0" dx="0 1 1 0 0 1.3">(km/s)</text></g>
<text x="678.4" y="42.1" font-size="33" font-weight="bold" font-family="Liberation Sans, Arial, sans-serif">b</text>
</g>
<g id="panel-c">
<clipPath id="clipc"><rect x="1454.3" y="21.9" width="542.3" height="485.6"/></clipPath>
<g clip-path="url(#clipc)">
<polyline transform="scale(0.76,1)" points="1953.54,548.0 1953.54,447.9 1957.22,448.4 1962.00,449.1 1966.71,449.8 1975.06,451.0 1983.34,452.3 1991.62,453.7 1999.96,455.0 1999.96,412.7 2010.95,406.1 2022.01,399.5 2033.29,392.9 2044.49,386.3 2044.49,374.7 2057.90,359.1 2071.46,343.5 2085.30,327.8 2099.36,312.2 2109.42,308.6 2119.27,305.0 2119.27,283.0 2135.47,277.9 2151.09,273.0 2183.28,259.5 2215.31,246.7 2247.92,234.6 2280.96,223.0 2314.57,211.9 2348.11,201.3 2382.36,191.2 2416.61,181.4 2451.57,171.9 2487.25,162.7 2522.93,153.7 2559.32,144.9 2595.71,136.2 2632.81,127.6" fill="none" stroke="#b3b3b3" stroke-width="5.4" stroke-linejoin="miter"/>
</g>
<rect x="1454.3" y="21.9" width="542.3" height="485.6" fill="none" stroke="#000" stroke-width="2.1"/>
<path d="M1481.4,507.5v-9.6M1481.4,21.9v9.6M1508.5,507.5v-5.4M1508.5,21.9v5.4M1535.6,507.5v-9.6M1535.6,21.9v9.6M1562.8,507.5v-5.4M1562.8,21.9v5.4M1589.9,507.5v-9.6M1589.9,21.9v9.6M1617.0,507.5v-5.4M1617.0,21.9v5.4M1644.1,507.5v-9.6M1644.1,21.9v9.6M1671.2,507.5v-5.4M1671.2,21.9v5.4M1698.3,507.5v-9.6M1698.3,21.9v9.6M1725.4,507.5v-5.4M1725.4,21.9v5.4M1752.6,507.5v-9.6M1752.6,21.9v9.6M1779.7,507.5v-5.4M1779.7,21.9v5.4M1806.8,507.5v-9.6M1806.8,21.9v9.6M1833.9,507.5v-5.4M1833.9,21.9v5.4M1861.0,507.5v-9.6M1861.0,21.9v9.6M1888.1,507.5v-5.4M1888.1,21.9v5.4M1915.3,507.5v-9.6M1915.3,21.9v9.6M1942.4,507.5v-5.4M1942.4,21.9v5.4M1969.5,507.5v-9.6M1969.5,21.9v9.6M1996.6,507.5v-5.4M1996.6,21.9v5.4M1454.3,467.0h9.6M1996.6,467.0h-9.6M1454.3,426.6h5.4M1996.6,426.6h-5.4M1454.3,386.1h9.6M1996.6,386.1h-9.6M1454.3,345.6h5.4M1996.6,345.6h-5.4M1454.3,305.2h9.6M1996.6,305.2h-9.6M1454.3,264.7h5.4M1996.6,264.7h-5.4M1454.3,224.2h9.6M1996.6,224.2h-9.6M1454.3,183.8h5.4M1996.6,183.8h-5.4M1454.3,143.3h9.6M1996.6,143.3h-9.6M1454.3,102.8h5.4M1996.6,102.8h-5.4M1454.3,62.4h9.6M1996.6,62.4h-9.6" stroke="#000" stroke-width="1.4" fill="none"/>

<path d="M1627.8,209.7V250.1M1623.8,209.7h8M1623.8,250.1h8M1606.1,229.9H1649.5M1606.1,225.9v8M1649.5,225.9v8" stroke="#08a4ea" stroke-width="1.6" fill="none" clip-path="url(#clipc)"/>
<path d="M1682.1,373.2V424.9M1678.1,373.2h8M1678.1,424.9h8" stroke="#08a4ea" stroke-width="1.6" fill="none" clip-path="url(#clipc)"/>

<path d="M1655.0,266.3V295.5M1651.0,266.3h8M1651.0,295.5h8M1644.1,280.9H1665.8M1644.1,276.9v8M1665.8,276.9v8" stroke="#0a0a9c" stroke-width="1.6" fill="none" clip-path="url(#clipc)"/>
<path d="M1725.4,161.9V212.1M1721.4,161.9h8M1721.4,212.1h8M1703.2,187.0H1747.7M1703.2,183.0v8M1747.7,183.0v8" stroke="#0a0a9c" stroke-width="1.6" fill="none" clip-path="url(#clipc)"/>
<path d="M1801.4,132.8V173.2M1797.4,132.8h8M1797.4,173.2h8M1779.7,153.0H1823.1M1779.7,149.0v8M1823.1,149.0v8" stroke="#0a0a9c" stroke-width="1.6" fill="none" clip-path="url(#clipc)"/>
<path d="M1844.8,120.6V151.4M1840.8,120.6h8M1840.8,151.4h8M1836.6,136.0H1852.9M1836.6,132.0v8M1852.9,132.0v8" stroke="#0a0a9c" stroke-width="1.6" fill="none" clip-path="url(#clipc)"/>
<path d="M1909.8,98.2V125.3M1905.8,98.2h8M1905.8,125.3h8M1899.5,111.7H1920.1M1899.5,107.7v8M1920.1,107.7v8" stroke="#0a0a9c" stroke-width="1.6" fill="none" clip-path="url(#clipc)"/>
<path d="M1481.4,397.4V429.8M1477.7,397.4h7.4M1477.7,429.8h7.4" stroke="#dd0202" stroke-width="1.4" fill="none" clip-path="url(#clipc)"/>
<path d="M1505.8,401.5V437.1M1502.1,401.5h7.4M1502.1,437.1h7.4" stroke="#dd0202" stroke-width="1.4" fill="none" clip-path="url(#clipc)"/>
<path d="M1547.6,361.0V406.3M1543.9,361.0h7.4M1543.9,406.3h7.4" stroke="#dd0202" stroke-width="1.4" fill="none" clip-path="url(#clipc)"/>
<path d="M1574.7,289.0V321.4M1571.0,289.0h7.4M1571.0,321.4h7.4" stroke="#dd0202" stroke-width="1.4" fill="none" clip-path="url(#clipc)"/>
<path d="M1594.2,270.4V306.0M1590.5,270.4h7.4M1590.5,306.0h7.4" stroke="#dd0202" stroke-width="1.4" fill="none" clip-path="url(#clipc)"/>
<path d="M1622.4,246.1V270.4M1618.7,246.1h7.4M1618.7,270.4h7.4" stroke="#dd0202" stroke-width="1.4" fill="none" clip-path="url(#clipc)"/>
<path d="M1649.5,238.0V270.4M1645.8,238.0h7.4M1645.8,270.4h7.4" stroke="#dd0202" stroke-width="1.4" fill="none" clip-path="url(#clipc)"/>
<path d="M1678.3,237.2V261.5M1674.6,237.2h7.4M1674.6,261.5h7.4" stroke="#dd0202" stroke-width="1.4" fill="none" clip-path="url(#clipc)"/>
<path d="M1481.4,374.8V407.1M1477.7,374.8h7.4M1477.7,407.1h7.4" stroke="#8400d6" stroke-width="1.4" fill="none" clip-path="url(#clipc)"/>
<path d="M1551.4,258.2V287.4M1547.7,258.2h7.4M1547.7,287.4h7.4" stroke="#8400d6" stroke-width="1.4" fill="none" clip-path="url(#clipc)"/>
<path d="M1566.0,248.5V277.6M1562.3,248.5h7.4M1562.3,277.6h7.4" stroke="#8400d6" stroke-width="1.4" fill="none" clip-path="url(#clipc)"/>
<path d="M1577.4,240.4V272.8M1573.7,240.4h7.4M1573.7,272.8h7.4" stroke="#8400d6" stroke-width="1.4" fill="none" clip-path="url(#clipc)"/>
<path d="M1588.8,233.9V266.3M1585.1,233.9h7.4M1585.1,266.3h7.4" stroke="#8400d6" stroke-width="1.4" fill="none" clip-path="url(#clipc)"/>
<path d="M1610.5,224.2V248.5M1606.8,224.2h7.4M1606.8,248.5h7.4" stroke="#8400d6" stroke-width="1.4" fill="none" clip-path="url(#clipc)"/>
<path d="M1628.4,210.5V242.8M1624.7,210.5h7.4M1624.7,242.8h7.4M1624.7,226.7H1632.1M1624.7,223.0v7.4M1632.1,223.0v7.4" stroke="#8400d6" stroke-width="1.4" fill="none" clip-path="url(#clipc)"/>
<path d="M1642.5,204.0V236.4M1638.8,204.0h7.4M1638.8,236.4h7.4M1638.5,220.2H1646.5M1638.5,216.5v7.4M1646.5,216.5v7.4" stroke="#8400d6" stroke-width="1.4" fill="none" clip-path="url(#clipc)"/>
<path d="M1653.3,197.5V229.9M1649.6,197.5h7.4M1649.6,229.9h7.4M1649.0,213.7H1657.6M1649.0,210.0v7.4M1657.6,210.0v7.4" stroke="#8400d6" stroke-width="1.4" fill="none" clip-path="url(#clipc)"/>
<path d="M1664.7,194.3V220.2M1661.0,194.3h7.4M1661.0,220.2h7.4M1660.1,207.2H1669.3M1660.1,203.5v7.4M1669.3,203.5v7.4" stroke="#8400d6" stroke-width="1.4" fill="none" clip-path="url(#clipc)"/>
<path d="M1687.5,172.4V227.5M1683.8,172.4h7.4M1683.8,227.5h7.4M1682.3,200.0H1692.6M1682.3,196.3v7.4M1692.6,196.3v7.4" stroke="#8400d6" stroke-width="1.4" fill="none" clip-path="url(#clipc)"/>
<path d="M1713.0,160.3V212.1M1709.3,160.3h7.4M1709.3,212.1h7.4M1707.2,186.2H1718.8M1707.2,182.5v7.4M1718.8,182.5v7.4" stroke="#8400d6" stroke-width="1.4" fill="none" clip-path="url(#clipc)"/>
<path d="M1717.9,157.9V209.7M1714.2,157.9h7.4M1714.2,209.7h7.4M1711.9,183.8H1723.8M1711.9,180.1v7.4M1723.8,180.1v7.4" stroke="#8400d6" stroke-width="1.4" fill="none" clip-path="url(#clipc)"/>
<path d="M1735.2,150.9V205.3M1731.5,150.9h7.4M1731.5,205.3h7.4M1728.9,178.1H1741.6M1728.9,174.4v7.4M1741.6,174.4v7.4" stroke="#8400d6" stroke-width="1.4" fill="none" clip-path="url(#clipc)"/>
<path d="M1750.9,142.8V197.2M1747.2,142.8h7.4M1747.2,197.2h7.4M1744.2,170.0H1757.7M1744.2,166.3v7.4M1757.7,166.3v7.4" stroke="#8400d6" stroke-width="1.4" fill="none" clip-path="url(#clipc)"/>
<path d="M1779.7,129.8V182.7M1776.0,129.8h7.4M1776.0,182.7h7.4M1772.2,156.2H1787.1M1772.2,152.5v7.4M1787.1,152.5v7.4" stroke="#8400d6" stroke-width="1.4" fill="none" clip-path="url(#clipc)"/>
<path d="M1810.6,117.8V167.2M1806.9,117.8h7.4M1806.9,167.2h7.4M1802.4,142.5H1818.8M1802.4,138.8v7.4M1818.8,138.8v7.4" stroke="#8400d6" stroke-width="1.4" fill="none" clip-path="url(#clipc)"/>
<path d="M1833.9,104.9V160.7M1830.2,104.9h7.4M1830.2,160.7h7.4M1825.1,132.8H1842.7M1825.1,129.1v7.4M1842.7,129.1v7.4" stroke="#8400d6" stroke-width="1.4" fill="none" clip-path="url(#clipc)"/>
<path d="M1868.1,92.5V148.8M1864.4,92.5h7.4M1864.4,148.8h7.4M1858.4,120.6H1877.7M1858.4,116.9v7.4M1877.7,116.9v7.4" stroke="#8400d6" stroke-width="1.4" fill="none" clip-path="url(#clipc)"/>
<path d="M1893.6,84.7V137.1M1889.9,84.7h7.4M1889.9,137.1h7.4M1883.3,110.9H1903.9M1883.3,107.2v7.4M1903.9,107.2v7.4" stroke="#8400d6" stroke-width="1.4" fill="none" clip-path="url(#clipc)"/>
<path d="M1941.8,67.2V119.0M1938.1,67.2h7.4M1938.1,119.0h7.4M1930.3,93.1H1953.3M1930.3,89.4v7.4M1953.3,89.4v7.4" stroke="#8400d6" stroke-width="1.4" fill="none" clip-path="url(#clipc)"/>
<path d="M1972.7,56.3V105.7M1969.0,56.3h7.4M1969.0,105.7h7.4M1960.5,81.0H1985.0M1960.5,77.3v7.4M1985.0,77.3v7.4" stroke="#8400d6" stroke-width="1.4" fill="none" clip-path="url(#clipc)"/>
<path d="M1995.5,46.5V100.9M1991.8,46.5h7.4M1991.8,100.9h7.4M1982.7,73.7H2008.4M1982.7,70.0v7.4M2008.4,70.0v7.4" stroke="#8400d6" stroke-width="1.4" fill="none" clip-path="url(#clipc)"/>
<rect x="1475.2" y="407.4" width="12.4" height="12.4" fill="#dd0202"/>
<rect x="1499.6" y="413.1" width="12.4" height="12.4" fill="#dd0202"/>
<rect x="1541.4" y="377.5" width="12.4" height="12.4" fill="#dd0202"/>
<rect x="1568.5" y="299.0" width="12.4" height="12.4" fill="#dd0202"/>
<rect x="1588.0" y="282.0" width="12.4" height="12.4" fill="#dd0202"/>
<rect x="1616.2" y="252.0" width="12.4" height="12.4" fill="#dd0202"/>
<rect x="1643.3" y="248.0" width="12.4" height="12.4" fill="#dd0202"/>
<rect x="1672.1" y="243.1" width="12.4" height="12.4" fill="#dd0202"/>
<rect x="1475.5" y="405.5" width="11" height="11" fill="#fff" stroke="#b01c1c" stroke-width="1.2"/>
<rect x="1530.5" y="348.5" width="11" height="11" fill="#fff" stroke="#b01c1c" stroke-width="1.2"/>
<rect x="1584.5" y="291.5" width="11" height="11" fill="#fff" stroke="#b01c1c" stroke-width="1.2"/>
<rect x="1611.5" y="269.5" width="11" height="11" fill="#fff" stroke="#b01c1c" stroke-width="1.2"/>
<rect x="1627.5" y="243.5" width="11" height="11" fill="#fff" stroke="#b01c1c" stroke-width="1.2"/>
<rect x="1638.5" y="226.5" width="11" height="11" fill="#fff" stroke="#b01c1c" stroke-width="1.2"/>
<rect x="1665.5" y="196.5" width="11" height="11" fill="#fff" stroke="#b01c1c" stroke-width="1.2"/>
<rect x="1692.5" y="179.5" width="11" height="11" fill="#fff" stroke="#b01c1c" stroke-width="1.2"/>
<rect x="1747.5" y="150.5" width="11" height="11" fill="#fff" stroke="#b01c1c" stroke-width="1.2"/>
<rect x="1801.5" y="127.5" width="11" height="11" fill="#fff" stroke="#b01c1c" stroke-width="1.2"/>
<rect x="1855.5" y="105.5" width="11" height="11" fill="#fff" stroke="#b01c1c" stroke-width="1.2"/>
<rect x="1909.5" y="86.5" width="11" height="11" fill="#fff" stroke="#b01c1c" stroke-width="1.2"/>
<rect x="1963.5" y="64.5" width="11" height="11" fill="#fff" stroke="#b01c1c" stroke-width="1.2"/>
<path d="M1481.4,384.1L1488.3,391.0L1481.4,397.9L1474.5,391.0Z" fill="#8400d6"/>
<path d="M1551.4,265.9L1558.3,272.8L1551.4,279.7L1544.5,272.8Z" fill="#8400d6"/>
<path d="M1566.0,256.2L1572.9,263.1L1566.0,270.0L1559.1,263.1Z" fill="#8400d6"/>
<path d="M1577.4,249.7L1584.3,256.6L1577.4,263.5L1570.5,256.6Z" fill="#8400d6"/>
<path d="M1588.8,243.2L1595.7,250.1L1588.8,257.0L1581.9,250.1Z" fill="#8400d6"/>
<path d="M1610.5,229.5L1617.4,236.4L1610.5,243.3L1603.6,236.4Z" fill="#8400d6"/>
<path d="M1628.4,219.8L1635.3,226.7L1628.4,233.6L1621.5,226.7Z" fill="#8400d6"/>
<path d="M1642.5,213.3L1649.4,220.2L1642.5,227.1L1635.6,220.2Z" fill="#8400d6"/>
<path d="M1653.3,206.8L1660.2,213.7L1653.3,220.6L1646.4,213.7Z" fill="#8400d6"/>
<path d="M1664.7,200.3L1671.6,207.2L1664.7,214.1L1657.8,207.2Z" fill="#8400d6"/>
<path d="M1687.5,193.1L1694.4,200.0L1687.5,206.9L1680.6,200.0Z" fill="#8400d6"/>
<path d="M1713.0,179.3L1719.9,186.2L1713.0,193.1L1706.1,186.2Z" fill="#8400d6"/>
<path d="M1717.9,176.9L1724.8,183.8L1717.9,190.7L1711.0,183.8Z" fill="#8400d6"/>
<path d="M1735.2,171.2L1742.1,178.1L1735.2,185.0L1728.3,178.1Z" fill="#8400d6"/>
<path d="M1750.9,163.1L1757.8,170.0L1750.9,176.9L1744.0,170.0Z" fill="#8400d6"/>
<path d="M1779.7,149.3L1786.6,156.2L1779.7,163.1L1772.8,156.2Z" fill="#8400d6"/>
<path d="M1810.6,135.6L1817.5,142.5L1810.6,149.4L1803.7,142.5Z" fill="#8400d6"/>
<path d="M1833.9,125.9L1840.8,132.8L1833.9,139.7L1827.0,132.8Z" fill="#8400d6"/>
<path d="M1868.1,113.7L1875.0,120.6L1868.1,127.5L1861.2,120.6Z" fill="#8400d6"/>
<path d="M1893.6,104.0L1900.5,110.9L1893.6,117.8L1886.7,110.9Z" fill="#8400d6"/>
<path d="M1941.8,86.2L1948.7,93.1L1941.8,100.0L1934.9,93.1Z" fill="#8400d6"/>
<path d="M1972.7,74.1L1979.6,81.0L1972.7,87.9L1965.8,81.0Z" fill="#8400d6"/>
<path d="M1995.5,66.8L2002.4,73.7L1995.5,80.6L1988.6,73.7Z" fill="#8400d6"/>
<path d="M1644.4,328.3L1650.3,337.3H1638.6Z" fill="#fff" stroke="#0a6e0a" stroke-width="1.35" stroke-linejoin="bevel"/>
<path d="M1698.6,301.6L1704.5,310.6H1692.8Z" fill="#fff" stroke="#0a6e0a" stroke-width="1.35" stroke-linejoin="bevel"/>
<path d="M1752.9,276.5L1758.7,285.5H1747.0Z" fill="#fff" stroke="#0a6e0a" stroke-width="1.35" stroke-linejoin="bevel"/>
<path d="M1807.1,252.2L1812.9,261.2H1801.2Z" fill="#fff" stroke="#0a6e0a" stroke-width="1.35" stroke-linejoin="bevel"/>
<path d="M1861.3,232.8L1867.2,241.8H1855.5Z" fill="#fff" stroke="#0a6e0a" stroke-width="1.35" stroke-linejoin="bevel"/>
<path d="M1915.6,214.2L1921.4,223.2H1909.7Z" fill="#fff" stroke="#0a6e0a" stroke-width="1.35" stroke-linejoin="bevel"/>
<path d="M1969.8,196.4L1975.6,205.4H1963.9Z" fill="#fff" stroke="#0a6e0a" stroke-width="1.35" stroke-linejoin="bevel"/>
<circle cx="1481.4" cy="445.2" r="9.15" fill="#08a4ea"/>
<circle cx="1627.8" cy="229.9" r="9.15" fill="#08a4ea"/>
<circle cx="1682.1" cy="399.0" r="9.15" fill="#08a4ea"/>
<circle cx="1595.3" cy="263.1" r="9.15" fill="#0202cc"/>
<circle cx="1655.0" cy="280.9" r="9.15" fill="#0202cc"/>
<circle cx="1725.4" cy="187.0" r="9.15" fill="#0202cc"/>
<circle cx="1801.4" cy="153.0" r="9.15" fill="#0202cc"/>
<circle cx="1844.8" cy="136.0" r="9.15" fill="#0202cc"/>
<circle cx="1909.8" cy="111.7" r="9.15" fill="#0202cc"/>
<text x="1481.4" y="535.7" font-size="27" text-anchor="middle" font-family="Liberation Sans, Arial, sans-serif">0</text>
<text x="1589.9" y="535.7" font-size="27" text-anchor="middle" font-family="Liberation Sans, Arial, sans-serif">20</text>
<text x="1698.3" y="535.7" font-size="27" text-anchor="middle" font-family="Liberation Sans, Arial, sans-serif">40</text>
<text x="1806.8" y="535.7" font-size="27" text-anchor="middle" font-family="Liberation Sans, Arial, sans-serif">60</text>
<text x="1915.3" y="535.7" font-size="27" text-anchor="middle" font-family="Liberation Sans, Arial, sans-serif">80</text>
<text x="1443.1" y="473.2" font-size="27" text-anchor="end" font-family="Liberation Sans, Arial, sans-serif">6</text>
<text x="1443.1" y="392.3" font-size="27" text-anchor="end" font-family="Liberation Sans, Arial, sans-serif">7</text>
<text x="1443.1" y="311.4" font-size="27" text-anchor="end" font-family="Liberation Sans, Arial, sans-serif">8</text>
<text x="1443.1" y="230.4" font-size="27" text-anchor="end" font-family="Liberation Sans, Arial, sans-serif">9</text>
<text x="1443.1" y="149.5" font-size="27" text-anchor="end" font-family="Liberation Sans, Arial, sans-serif">10</text>
<text x="1443.1" y="68.6" font-size="27" text-anchor="end" font-family="Liberation Sans, Arial, sans-serif">11</text>
<text x="1725.4" y="570.6" font-size="30.25" text-anchor="middle" font-family="Liberation Sans, Arial, sans-serif">Pressure (GPa)</text>
<g transform="translate(1383.6,0) rotate(-90)" font-size="29.8" font-family="Liberation Sans, Arial, sans-serif"><text x="-326.7" y="-0.4" font-style="italic">v</text><text x="-314.1" y="10.75" font-size="23.4">Φ</text><text x="-288.49" y="0" dx="0 1 1 0 0 1.3">(km/s)</text></g>
<text x="1358.9" y="42.1" font-size="33" font-weight="bold" font-family="Liberation Sans, Arial, sans-serif">c</text>
</g>
<g id="legend"><rect x="1719.4" y="305.5" width="258.5" height="183.9" fill="#fff" stroke="#000" stroke-width="1.4"/>
<circle cx="1750.15" cy="321.9" r="9.1" fill="#08a4ea"/>
<circle cx="1750.15" cy="349.2" r="9.1" fill="#0202cc"/>
<rect x="1744.7" y="372.6" width="12.4" height="12.4" fill="#dd0202"/>
<rect x="1745.5" y="397.5" width="11" height="11" fill="#fff" stroke="#b01c1c" stroke-width="1.2"/>
<path d="M1751.2,419.90000000000003L1757.9,426.6L1751.2,433.3L1744.5,426.6Z" fill="#8400d6"/>
<path d="M1750.5,444.9L1756.1,453.8H1744.9Z" fill="#fff" stroke="#0a6e0a" stroke-width="1.35" stroke-linejoin="bevel"/>
<path d="M1732.3,475.8H1767.9" stroke="#b3b3b3" stroke-width="4.7"/>
<text x="1778" y="329.4" font-size="19.5" font-family="Liberation Sans, Arial, sans-serif">δ-Fe13-r1</text>
<text x="1778" y="356.5" font-size="19.5" font-family="Liberation Sans, Arial, sans-serif">δ-Fe13-r2</text>
<text x="1778" y="385.6" font-size="19.5" font-family="Liberation Sans, Arial, sans-serif">δ-AlOOH (ref. 20)</text>
<text x="1778" y="410.0" font-size="19.5" font-family="Liberation Sans, Arial, sans-serif">δ-AlOOH (refs. 21, 26)</text>
<text x="1778" y="433.4" font-size="19.5" font-family="Liberation Sans, Arial, sans-serif">δ-Fe4 (ref. 23)</text>
<text x="1778" y="455.0" font-size="19.5" font-family="Liberation Sans, Arial, sans-serif">ε-FeOOH LS (ref. 26)</text>
<text x="1778" y="481.7" font-size="19.5" font-family="Liberation Sans, Arial, sans-serif">PREM (ref. 36)</text>
</g>
</svg></body></html>
